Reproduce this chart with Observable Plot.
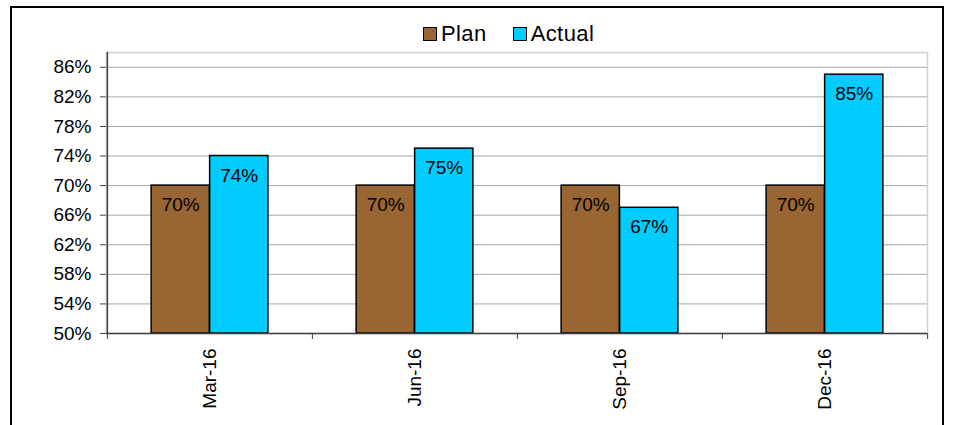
<!DOCTYPE html>
<html>
<head>
<meta charset="utf-8">
<script src="https://cdn.jsdelivr.net/npm/d3@7"></script>
<script src="https://cdn.jsdelivr.net/npm/@observablehq/plot@0.6"></script>
<style>
  html, body { margin: 0; padding: 0; background: #fff; }
  #wrap { position: relative; width: 953px; height: 425px; overflow: hidden; background: #fff;
          font-family: "Liberation Sans", Arial, sans-serif; }
  #frame { position: absolute; left: 10px; top: 6px; width: 934px; height: 440px;
           border: 2px solid #000; box-sizing: border-box; pointer-events: none; }
  #legend { position: absolute; top: 22px; left: 423px; display: flex; align-items: center;
            font-size: 22px; color: #000; line-height: 24px; letter-spacing: 0.4px; }
  .item { display: flex; align-items: center; margin-right: 26px; }
  .sw { width: 12px; height: 12px; border: 1.5px solid #000; margin-right: 4px; }
  #chart { position: absolute; left: 0; top: 0; }
</style>
</head>
<body>
<div id="wrap">
  <div id="chart"></div>
  <div id="legend"></div>
  <div id="frame"></div>
</div>
<script>
const months = ["Mar-16", "Jun-16", "Sep-16", "Dec-16"];
const planValues = [70, 70, 70, 70];
const actualValues = [74, 75, 67, 85];
const seriesNames = ["Plan", "Actual"];
const seriesColors = ["#996633", "#00CCFF"];
const yTicks = [50, 54, 58, 62, 66, 70, 74, 78, 82, 86];

const rows = [];
months.forEach((m, i) => {
  rows.push({month: m, series: "Plan", value: planValues[i]});
  rows.push({month: m, series: "Actual", value: actualValues[i]});
});
const planRows = rows.filter(d => d.series === "Plan");
const actualRows = rows.filter(d => d.series === "Actual");

const W = 953, H = 425, mL = 106, mR = 26, mT = 52, mB = 92;
const bw = (W - mL - mR) / months.length;
const barW = 58.5;
const outer = bw / 2 - barW;
const font = "Liberation Sans, Arial, sans-serif";

const chart = Plot.plot({
  width: W,
  height: H,
  marginLeft: mL,
  marginRight: mR,
  marginTop: mT,
  marginBottom: mB,
  style: {fontFamily: font, fontSize: "19px", color: "#000", background: "transparent"},
  x: {type: "band", domain: months, padding: 0, label: null},
  y: {domain: [50, 88], label: null},
  marks: [
    Plot.ruleY(yTicks, {stroke: "#a6a6a6", strokeWidth: 1}),
    Plot.frame({stroke: "#d0d0d0", strokeWidth: 1.5}),
    Plot.barY(planRows, {x: "month", y1: 50, y2: "value", fill: seriesColors[0], stroke: "#000", strokeWidth: 1.5,
      insetLeft: outer, insetRight: bw / 2}),
    Plot.barY(actualRows, {x: "month", y1: 50, y2: "value", fill: seriesColors[1], stroke: "#000", strokeWidth: 1.5,
      insetLeft: bw / 2, insetRight: outer}),
    Plot.text(planRows, {x: "month", y: "value", text: d => d.value + "%", dx: -barW / 2, dy: 12,
      lineAnchor: "top", fontSize: 19, fill: "#000"}),
    Plot.text(actualRows, {x: "month", y: "value", text: d => d.value + "%", dx: barW / 2, dy: 12,
      lineAnchor: "top", fontSize: 19, fill: "#000"}),
    Plot.ruleY([50], {stroke: "#404040", strokeWidth: 1.5}),
    Plot.ruleX([months[0]], {dx: -bw / 2, stroke: "#404040", strokeWidth: 1.5}),
    Plot.axisY({ticks: yTicks, tickFormat: d => d + "%", tickSize: 6, tickPadding: 9, fontSize: 19, stroke: "#404040", label: null}),
    Plot.axisX({tickSize: 0, tickPadding: 15, tickRotate: -90, fontSize: 19, label: null}),
    Plot.axisX({tickSize: 6, tickFormat: () => "", dx: -bw / 2, stroke: "#404040", label: null}),
    Plot.axisX({ticks: [months[months.length - 1]], tickSize: 6, tickFormat: () => "", dx: bw / 2, stroke: "#404040", label: null})
  ]
});
document.getElementById("chart").appendChild(chart);

const legend = document.getElementById("legend");
seriesNames.forEach((name, i) => {
  const item = document.createElement("div");
  item.className = "item";
  const sw = document.createElement("div");
  sw.className = "sw";
  sw.style.background = seriesColors[i];
  const label = document.createElement("span");
  label.textContent = name;
  item.appendChild(sw);
  item.appendChild(label);
  legend.appendChild(item);
});
</script>
</body>
</html>
